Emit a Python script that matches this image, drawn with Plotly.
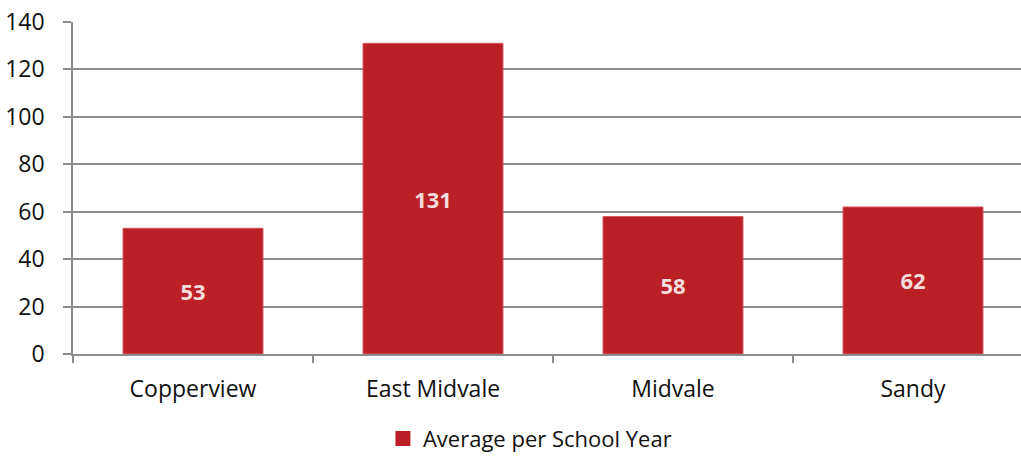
import plotly.graph_objects as go

# Average count per school year by area
categories = ["Copperview", "East Midvale", "Midvale", "Sandy"]
averages = [53, 131, 58, 62]
series_name = "Average per School Year"

bar_color = "#BB2026"
grid_color = "#8C8C8C"
font_family = "Open Sans, Lato, sans-serif"
text_color = "#111111"

fig = go.Figure()

fig.add_trace(
    go.Bar(
        x=categories,
        y=averages,
        name=series_name,
        width=0.583,
        marker=dict(color=bar_color, line=dict(width=1, color="#D4555A")),
        text=[str(v) for v in averages],
        textposition="inside",
        insidetextanchor="middle",
        textangle=0,
        textfont=dict(family=font_family, size=22, color="#F5DCDC", weight="bold"),
        showlegend=False,
    )
)

# Legend entry with a larger square swatch
fig.add_trace(
    go.Scatter(
        x=[None],
        y=[None],
        mode="markers",
        name=series_name,
        marker=dict(symbol="square", size=15, color=bar_color),
        showlegend=True,
    )
)

fig.update_layout(
    width=1021,
    height=456,
    margin=dict(l=73, r=0, t=22, b=102, autoexpand=False),
    paper_bgcolor="white",
    plot_bgcolor="white",
    font=dict(family=font_family, size=23, color=text_color),
    showlegend=True,
    legend=dict(
        orientation="h",
        x=0.482,
        xanchor="center",
        y=-0.255,
        yanchor="middle",
        font=dict(family=font_family, size=22, color=text_color),
        itemwidth=30,
    ),
)

fig.update_xaxes(
    type="category",
    range=[-0.5, 3.45],
    showline=True,
    linecolor=grid_color,
    linewidth=1.5,
    ticks="outside",
    tickson="boundaries",
    ticklen=7,
    tickcolor=grid_color,
    tickwidth=1.5,
    showgrid=False,
    automargin=False,
    ticklabelstandoff=14,
    tickfont=dict(family=font_family, size=23, color=text_color),
)

fig.update_yaxes(
    range=[0, 140],
    dtick=20,
    showline=True,
    linecolor=grid_color,
    linewidth=1.5,
    ticks="outside",
    ticklen=8,
    tickcolor=grid_color,
    tickwidth=1.5,
    showgrid=True,
    gridcolor=grid_color,
    gridwidth=1.5,
    zeroline=False,
    automargin=False,
    ticklabelstandoff=14,
    tickfont=dict(family=font_family, size=23, color=text_color),
)

fig.write_html("out.html")
